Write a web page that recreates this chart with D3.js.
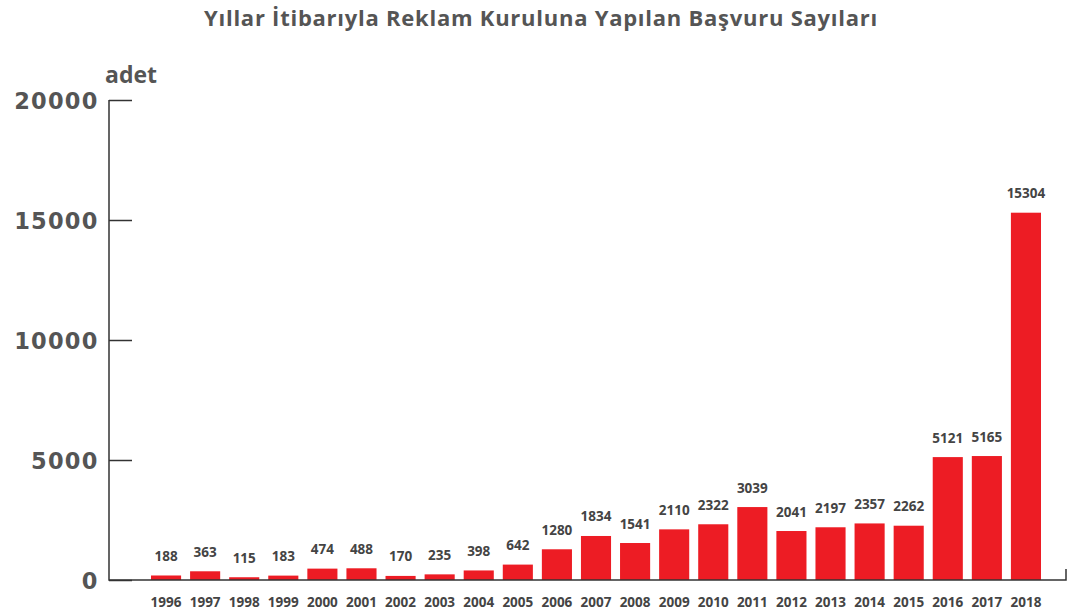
<!DOCTYPE html>
<html>
<head>
<meta charset="utf-8">
<script src="https://cdn.jsdelivr.net/npm/d3@7"></script>
<style>
  body { margin: 0; background: #fff; }
  text { font-family: "Open Sans", sans-serif; font-weight: 700; }
</style>
</head>
<body>
<svg id="chart" width="1076" height="613"></svg>
<script>
const years = ["1996","1997","1998","1999","2000","2001","2002","2003","2004","2005","2006","2007","2008","2009","2010","2011","2012","2013","2014","2015","2016","2017","2018"];
const counts = [188,363,115,183,474,488,170,235,398,642,1280,1834,1541,2110,2322,3039,2041,2197,2357,2262,5121,5165,15304];
const yTicks = [0,5000,10000,15000,20000];

const svg = d3.select('#chart');
const baseY = 580, topY = 100;

let x = d3.scaleBand().domain(years).range([151, 1041]).paddingInner(0.23).paddingOuter(0);
let y = d3.scaleLinear().domain([0, 20000]).range([baseY, topY]);

// title
svg.append('text')
  .attr('x', 541).attr('y', 26)
  .attr('text-anchor', 'middle')
  .style('font-size', '22px').style('fill', '#555')
  .style('letter-spacing', '0.75px')
  .text('Yıllar İtibarıyla Reklam Kuruluna Yapılan Başvuru Sayıları');

svg.append('text')
  .attr('x', 105).attr('y', 83)
  .style('font-size', '23px').style('fill', '#555')
  .text('adet');

// y tick labels
svg.selectAll('.ylab').data(yTicks)
  .enter().append('text')
  .attr('class', 'ylab')
  .attr('x', 98.5).attr('y', d => y(d) + 8.5)
  .attr('text-anchor', 'end')
  .style('font-family', '"DejaVu Sans", sans-serif')
  .style('font-size', '22.5px').style('fill', '#555')
  .style('letter-spacing', '1.2px')
  .text(d => d);

// tick marks pointing into the plot
let yAxis = d3.axisRight(y).tickValues(yTicks).tickSize(23).tickFormat('');
svg.append('g')
  .attr('transform', 'translate(109,0)')
  .call(yAxis)
  .call(g => g.select('.domain').remove())
  .call(g => g.selectAll('line').attr('stroke', '#333').attr('stroke-width', 1.5));

// bars
svg.selectAll('.bar').data(counts)
  .enter().append('rect')
  .attr('class', 'bar')
  .attr('x', (d, i) => x(years[i]))
  .attr('y', d => y(d))
  .attr('width', x.bandwidth())
  .attr('height', d => baseY - y(d))
  .attr('fill', '#ed1c24');

svg.selectAll('.val').data(counts)
  .enter().append('text')
  .attr('class', 'val')
  .attr('x', (d, i) => x(years[i]) + x.bandwidth() / 2)
  .attr('y', d => y(d) - 14.5)
  .attr('text-anchor', 'middle')
  .style('font-size', '13.5px').style('fill', '#444')
  .text(d => d);

svg.selectAll('.xlab').data(years)
  .enter().append('text')
  .attr('class', 'xlab')
  .attr('x', d => x(d) + x.bandwidth() / 2)
  .attr('y', 607)
  .attr('text-anchor', 'middle')
  .style('font-size', '13.5px').style('fill', '#444')
  .text(d => d);

// axis lines
svg.append('path')
  .attr('d', `M109,${topY}V${baseY}H1066V${baseY - 11}`)
  .attr('fill', 'none')
  .attr('stroke', '#333')
  .attr('stroke-width', 1.5);
</script>
</body>
</html>
